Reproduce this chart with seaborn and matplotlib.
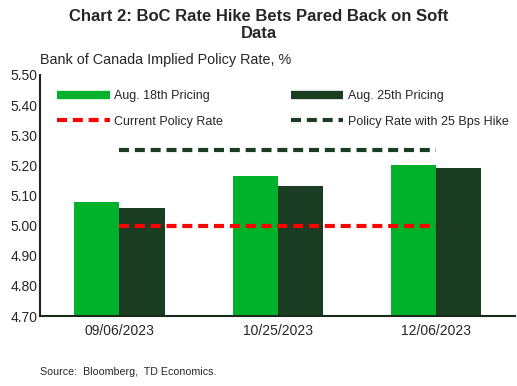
import pandas as pd
import matplotlib.pyplot as plt
import seaborn as sns
from matplotlib.lines import Line2D

# Данные
dates = ['09/06/2023', '10/25/2023', '12/06/2023']
aug18 = [5.08, 5.165, 5.20]
aug25 = [5.06, 5.13, 5.19]
current_rate = [5.00, 5.00, 5.00]
hike_rate = [5.25, 5.25, 5.25]

green = '#00B22B'
dark = '#1A3D24'
dash = (0, (2.4, 1.4))

df = pd.DataFrame({
    'date': dates * 2,
    'rate': aug18 + aug25,
    'series': ['Aug. 18th Pricing'] * 3 + ['Aug. 25th Pricing'] * 3,
})

sns.set_style('white')
plt.rcParams['font.family'] = ['Liberation Sans', 'DejaVu Sans']

fig, ax = plt.subplots(figsize=(5.17, 3.86), dpi=100)
fig.subplots_adjust(left=0.078, right=0.996, top=0.806, bottom=0.181)

sns.barplot(data=df, x='date', y='rate', hue='series', palette=[green, dark],
            width=0.57, saturation=1, ax=ax, legend=False)
for p in ax.patches:
    p.set_edgecolor('none')

xs = list(range(len(dates)))
ax.plot(xs, current_rate, color='#FF0000', lw=3, ls=dash)
ax.plot(xs, hike_rate, color=dark, lw=3, ls=dash)

ax.set_ylim(4.70, 5.50)
ax.set_xlim(-0.5, 2.5)
ticks = [4.70 + 0.1 * i for i in range(9)]
ax.set_yticks(ticks)
ax.set_yticklabels([f'{t:.2f}' for t in ticks], fontsize=10)
ax.tick_params(axis='x', labelsize=10, length=0, pad=6)
ax.tick_params(axis='y', length=0, pad=2)
ax.set_xlabel('')
ax.set_ylabel('')
for s in ['top', 'right']:
    ax.spines[s].set_visible(False)
for s in ['left', 'bottom']:
    ax.spines[s].set_color('#1A2A1A')
    ax.spines[s].set_linewidth(1.5)

# Легенда
handles = [
    Line2D([], [], color=green, lw=6, solid_capstyle='butt'),
    Line2D([], [], color='#FF0000', lw=3, ls=dash),
    Line2D([], [], color=dark, lw=6, solid_capstyle='butt'),
    Line2D([], [], color=dark, lw=3, ls=dash),
]
labels = ['Aug. 18th Pricing', 'Current Policy Rate',
          'Aug. 25th Pricing', 'Policy Rate with 25 Bps Hike']
ax.legend(handles, labels, ncol=2, frameon=False, fontsize=9,
          loc='upper left', bbox_to_anchor=(57 / 517, 1 - 90 / 386),
          bbox_transform=fig.transFigure, borderpad=0, borderaxespad=0,
          handlelength=4.2, handletextpad=0.4, columnspacing=5.4,
          labelspacing=1.1)

fig.text(0.5, 0.935, 'Chart 2: BoC Rate Hike Bets Pared Back on Soft\nData',
         ha='center', va='center', fontsize=12, fontweight='bold',
         linespacing=1.2)
fig.text(0.078, 0.845, 'Bank of Canada Implied Policy Rate, %', fontsize=10.4,
         ha='left', va='center')
fig.text(0.078, 0.036, 'Source:  Bloomberg,  TD Economics.', fontsize=7.7,
         ha='left', va='center')

plt.savefig('out.png', dpi=100)
